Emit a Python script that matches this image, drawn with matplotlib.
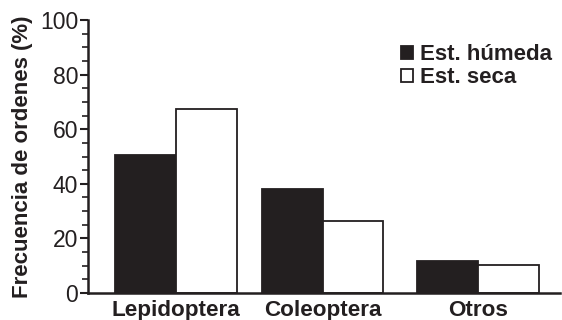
import matplotlib
matplotlib.use('Agg')
import matplotlib.pyplot as plt
from matplotlib.ticker import MultipleLocator
import numpy as np

plt.rcParams['font.family'] = ['Liberation Sans', 'DejaVu Sans']

# Frequency of insect orders by season (%)
categories = ['Lepidoptera', 'Coleoptera', 'Otros']
humeda = [50.5, 38.0, 11.6]
seca = [67.5, 26.5, 10.1]
series_labels = ['Est. húmeda', 'Est. seca']

INK = '#231f20'

fig = plt.figure(figsize=(5.62, 3.2), dpi=100)
ax = fig.add_axes([88 / 562, 27 / 320, (560 - 88) / 562, 273 / 320])

x = np.array([0, 1, 2.06])
w = 0.415
ax.bar(x - w / 2, humeda, w, color=INK, edgecolor=INK, linewidth=1.3,
       label=series_labels[0])
ax.bar(x + w / 2, seca, w, color='white', edgecolor=INK, linewidth=1.3,
       label=series_labels[1])

ax.set_xlim(-0.6, 2.62)
ax.set_ylim(0, 100)
ax.yaxis.set_major_locator(MultipleLocator(20))
ax.yaxis.set_minor_locator(MultipleLocator(5))
ax.set_xticks(x)
ax.set_xticklabels(categories, fontsize=16.2, fontweight='bold', color=INK)
ax.tick_params(axis='x', length=0, pad=5)
ax.tick_params(axis='y', which='major', length=6, width=1.5, color=INK,
               labelsize=16.5, labelcolor=INK, pad=1)
ax.tick_params(axis='y', which='minor', length=4, width=1.2, color=INK)

for side in ('top', 'right'):
    ax.spines[side].set_visible(False)
for side in ('left', 'bottom'):
    ax.spines[side].set_linewidth(1.8)
    ax.spines[side].set_color(INK)

ax.set_ylabel('Frecuencia de ordenes (%)', fontsize=16, fontweight='bold',
              color=INK, labelpad=5)

leg = ax.legend(loc='upper right', bbox_to_anchor=(1.025, 0.985), frameon=False,
                prop={'size': 16, 'weight': 'bold'}, handlelength=0.55,
                handleheight=0.55, handletextpad=0.3, labelspacing=0.1)
for t in leg.get_texts():
    t.set_color(INK)

fig.savefig('out.png', dpi=100)
